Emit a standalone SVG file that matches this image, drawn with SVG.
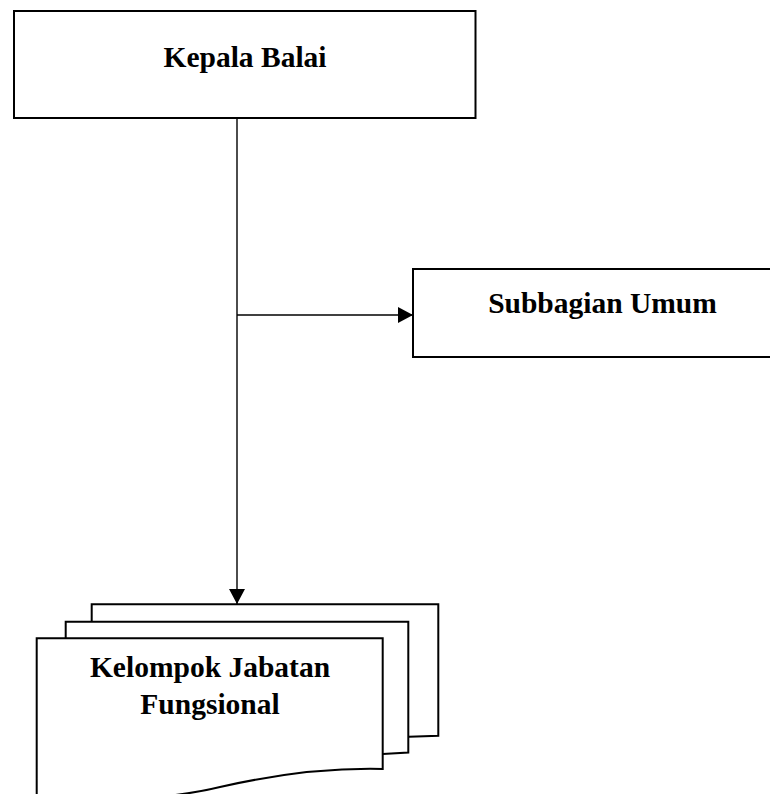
<svg xmlns="http://www.w3.org/2000/svg" width="770" height="794" viewBox="0 0 770 794">
  <defs>
    <style>
      .box { fill: #ffffff; stroke: #000000; stroke-width: 2; }
      .lbl { font-family: "Liberation Serif", "DejaVu Serif", serif; font-weight: bold; font-size: 29.5px; fill: #000000; text-anchor: middle; }
      .conn { fill: none; stroke: #000000; stroke-width: 1.4; }
    </style>
    <marker id="arrow" markerWidth="16" markerHeight="16" refX="15" refY="8" orient="auto" markerUnits="userSpaceOnUse">
      <path d="M0,0 L15,8 L0,16 Z" fill="#000000"/>
    </marker>
  </defs>
  <rect width="770" height="794" fill="#ffffff"/>

  <g id="connectors">
    <line class="conn" x1="237" y1="118" x2="237" y2="604" marker-end="url(#arrow)"/>
    <line class="conn" x1="237" y1="315" x2="413" y2="315" marker-end="url(#arrow)"/>
  </g>

  <g id="kepala-balai">
    <rect class="box" x="14" y="11" width="461.5" height="107"/>
    <text class="lbl" x="245" y="67">Kepala Balai</text>
  </g>

  <g id="subbagian-umum">
    <rect class="box" x="413" y="269" width="380" height="88"/>
    <text class="lbl" x="602.5" y="313">Subbagian Umum</text>
  </g>

  <g id="kelompok-jabatan-fungsional">
    <path class="box" d="M91.7,604.3 H438.3 V735.7 L409,736.7 L91.7,745 Z"/>
    <path class="box" d="M65.7,621.7 H408.3 V752.5 L382.7,754 L65.7,762 Z"/>
    <path class="box" d="M36.7,638.3 H382.7 V769 C340,768 290,771 220,787 C180,797 120,802 36.7,800 Z"/>
    <text class="lbl" x="210" y="677">Kelompok Jabatan</text>
    <text class="lbl" x="210" y="714">Fungsional</text>
  </g>
</svg>
